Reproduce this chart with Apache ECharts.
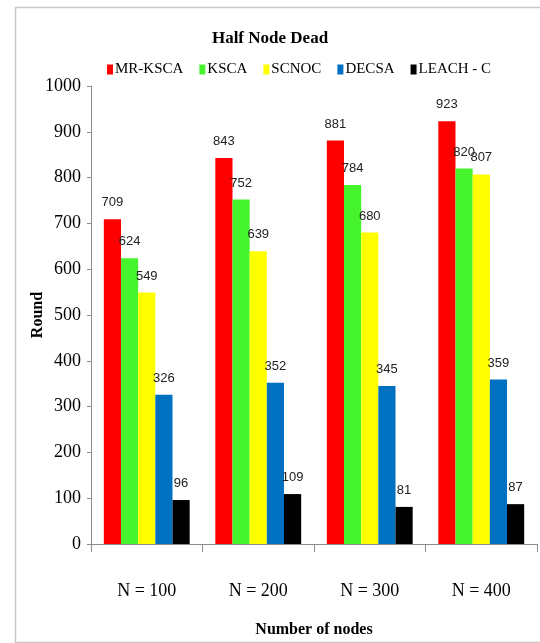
<!DOCTYPE html>
<html>
<head>
<meta charset="utf-8">
<script src="https://cdn.jsdelivr.net/npm/echarts@6/dist/echarts.min.js"></script>
<style>
  html, body { margin: 0; padding: 0; background: #ffffff; }
  #chart { width: 540px; height: 643px; }
</style>
</head>
<body>
<div id="chart"></div>
<script>
// Rounds until half of the nodes are dead, per protocol and network size
const categories = ['N = 100', 'N = 200', 'N = 300', 'N = 400'];
const seriesNames = ['MR-KSCA', 'KSCA', 'SCNOC', 'DECSA', 'LEACH - C'];
const mrKsca = [709, 843, 881, 923];
const ksca = [624, 752, 784, 820];
const scnoc = [549, 639, 680, 807];
const decsa = [326, 352, 345, 359];
const leachC = [96, 109, 81, 87];
const yTicks = [0, 100, 200, 300, 400, 500, 600, 700, 800, 900, 1000];

const colors = ['#ff0000', '#46f42e', '#ffff00', '#0070c0', '#000000'];
const values = [mrKsca, ksca, scnoc, decsa, leachC];

const serif = 'Liberation Serif, Times New Roman, serif';
const narrow = 'Liberation Sans Narrow, Liberation Sans, Arial, sans-serif';

const chart = echarts.init(document.getElementById('chart'), null, { renderer: 'canvas' });

chart.setOption({
  animation: false,
  backgroundColor: '#ffffff',
  color: colors,
  graphic: [{
    type: 'rect',
    left: 13, top: 5,
    shape: { width: 560, height: 635 },
    style: { fill: 'none', stroke: '#c8c8c8', lineWidth: 1.5 },
    silent: true,
    z: -10
  }],
  title: {
    text: 'Half Node Dead',
    left: 'center',
    top: 25,
    textStyle: { fontFamily: serif, fontWeight: 'bold', fontSize: 17, color: '#000' }
  },
  legend: {
    data: seriesNames,
    top: 57,
    left: 102,
    itemWidth: 6,
    itemHeight: 10,
    itemGap: 16,
    icon: 'rect',
    textStyle: { fontFamily: serif, fontSize: 15, color: '#000', padding: [0, 0, 0, -3] }
  },
  grid: { left: 91, right: 3, top: 86, bottom: 91, containLabel: false },
  xAxis: {
    type: 'category',
    data: categories,
    name: 'Number of nodes',
    nameLocation: 'middle',
    nameGap: 78,
    nameMoveOverlap: false,
    nameTextStyle: { fontFamily: serif, fontWeight: 'bold', fontSize: 16, color: '#000' },
    axisLine: { lineStyle: { color: '#8c8c8c', width: 1 } },
    axisTick: { show: true, length: 8, alignWithLabel: false, lineStyle: { color: '#8c8c8c' } },
    axisLabel: { margin: 30, fontFamily: serif, fontSize: 18, color: '#000', lineHeight: 34 },
    splitLine: { show: false }
  },
  yAxis: {
    type: 'value',
    min: yTicks[0],
    max: yTicks[yTicks.length - 1],
    interval: 100,
    name: 'Round',
    nameLocation: 'middle',
    nameGap: 45,
    nameMoveOverlap: false,
    nameRotate: 90,
    nameTextStyle: { fontFamily: serif, fontWeight: 'bold', fontSize: 16, color: '#000' },
    axisLine: { show: true, lineStyle: { color: '#8c8c8c', width: 1 } },
    axisTick: { show: true, length: 4, lineStyle: { color: '#8c8c8c' } },
    axisLabel: {
      margin: 10, fontFamily: serif, fontSize: 18, color: '#000',
      formatter: (v) => String(v)
    },
    splitLine: { show: false }
  },
  series: seriesNames.map((name, i) => ({
    name: name,
    type: 'bar',
    data: values[i],
    barGap: '0%',
    barCategoryGap: '23%',
    itemStyle: { color: colors[i] },
    label: {
      show: true,
      position: 'top',
      distance: 10,
      fontFamily: narrow,
      fontSize: 13,
      color: '#222'
    }
  }))
});
</script>
</body>
</html>
